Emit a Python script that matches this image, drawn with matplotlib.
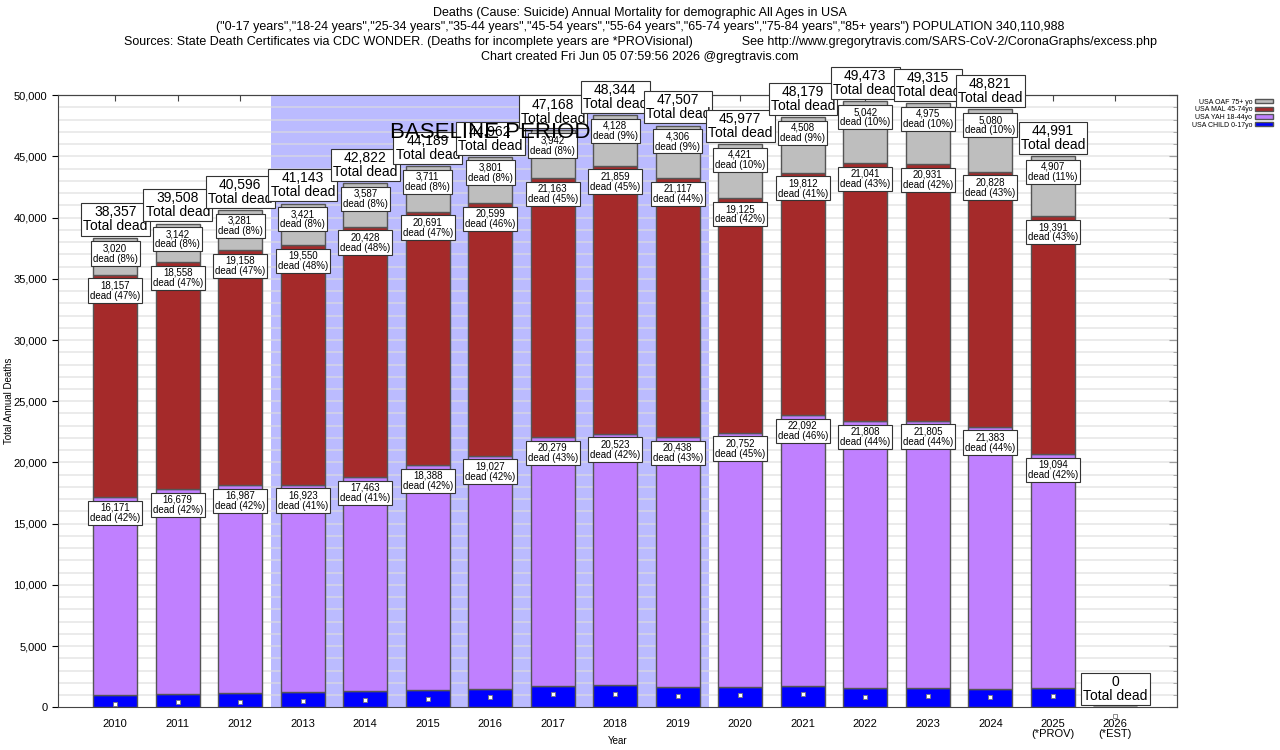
import matplotlib
matplotlib.use("Agg")
import matplotlib.pyplot as plt
from matplotlib.patches import Patch
from matplotlib.ticker import MultipleLocator
import numpy as np

plt.rcParams['font.family'] = ['Liberation Sans', 'DejaVu Sans']

years = [2010, 2011, 2012, 2013, 2014, 2015, 2016, 2017, 2018, 2019,
         2020, 2021, 2022, 2023, 2024, 2025, 2026]
year_labels = ['2010', '2011', '2012', '2013', '2014', '2015', '2016', '2017',
               '2018', '2019', '2020', '2021', '2022', '2023', '2024',
               '2025\n(*PROV)', '2026\n(*EST)']
child = [1009, 1129, 1170, 1249, 1344, 1399, 1535, 1784, 1834, 1646,
         1679, 1767, 1582, 1604, 1530, 1599, 0]
yah = [16171, 16679, 16987, 16923, 17463, 18388, 19027, 20279, 20523, 20438,
       20752, 22092, 21808, 21805, 21383, 19094, 0]
mal = [18157, 18558, 19158, 19550, 20428, 20691, 20599, 21163, 21859, 21117,
       19125, 19812, 21041, 20931, 20828, 19391, 0]
oaf = [3020, 3142, 3281, 3421, 3587, 3711, 3801, 3942, 4128, 4306,
       4421, 4508, 5042, 4975, 5080, 4907, 0]
totals = [38357, 39508, 40596, 41143, 42822, 44189, 44962, 47168, 48344, 47507,
          45977, 48179, 49473, 49315, 48821, 44991, 0]
markers = [300, 470, 470, 550, 650, 710, 820, 1090, 1120, 950,
           1010, 1120, 870, 930, 820, 930, -680]

series_names = ['USA CHILD 0-17yo', 'USA YAH 18-44yo', 'USA MAL 45-74yo', 'USA OAF 75+ yo']
colors = ['#0000ff', '#c080ff', '#a52a2a', '#bebebe']

fig = plt.figure(figsize=(12.8, 7.5), dpi=100)
ax = fig.add_axes([0.0451, 0.0567, 0.8746, 0.8166])

x = np.array(years, dtype=float)
ax.axvspan(2012.5, 2019.5, color='#bbbbff', zorder=0.5, lw=0)
ax.text(2016, 46900, 'BASELINE PERIOD', fontsize=16, ha='center', va='center', zorder=8)

for gy in range(1000, 50000, 1000):
    ax.axhline(gy, color='#dddddd', lw=1.2, zorder=0.8, alpha=0.7)

bw = 0.7
bottom = np.zeros(len(years))
segs = [child, yah, mal, oaf]
for i, (vals, col) in enumerate(zip(segs, colors)):
    v = np.array(vals, dtype=float)
    ax.bar(x, v, bw, bottom=bottom, color=col, edgecolor='#555555', linewidth=1, zorder=2)
    top = bottom + v
    if i > 0:
        for xi, t, val, tot in zip(x, top, v, totals):
            if tot > 0:
                pct = int(round(100 * val / tot))
                ax.annotate(f'{int(val):,}\ndead ({pct}%)', xy=(xi, t), xytext=(0, -4),
                            textcoords='offset points', ha='center', va='top',
                            fontsize=7, linespacing=1.05, zorder=4,
                            bbox=dict(boxstyle='square,pad=0.2', fc='white', ec='#333333', lw=0.8))
    bottom = top

for xi, tot in zip(x, totals):
    ax.annotate(f'{tot:,}\nTotal dead', xy=(xi, tot), xytext=(0, 3),
                textcoords='offset points', ha='center', va='bottom',
                fontsize=10, linespacing=1.0, zorder=6,
                bbox=dict(boxstyle='square,pad=0.15', fc='white', ec='#333333', lw=0.8))

ax.scatter(x, markers, marker='s', s=9, facecolor='white', edgecolor='#777777',
           linewidth=0.6, zorder=7, clip_on=False)

ax.set_xlim(2009.08, 2026.99)
ax.set_ylim(0, 50000)
ax.set_xticks(x)
ax.set_xticklabels(year_labels, fontsize=8, linespacing=1.0)
ax.set_yticks(np.arange(0, 50001, 5000))
ax.set_yticklabels([f'{v:,}' for v in range(0, 50001, 5000)], fontsize=8)
ax.tick_params(axis='x', length=0, pad=8)
ax.tick_params(axis='y', which='major', direction='out', length=4)
ax.set_xlabel('Year', fontsize=7, labelpad=-2)
ax.set_ylabel('Total Annual Deaths', fontsize=7)
ax.yaxis.set_label_coords(-0.039, 0.5)
for s in ax.spines.values():
    s.set_color('#444444')

# inward ticks on top and right
sec_x = ax.secondary_xaxis('top')
sec_x.set_xticks(x)
sec_x.tick_params(direction='in', length=4, labeltop=False, color='#444444')
sec_y = ax.secondary_yaxis('right')
sec_y.yaxis.set_major_locator(MultipleLocator(5000))
sec_y.yaxis.set_minor_locator(MultipleLocator(1000))
sec_y.tick_params(which='major', direction='in', length=6, labelright=False, color='#444444')
sec_y.tick_params(which='minor', direction='in', length=3, color='#444444')
for sp in list(sec_x.spines.values()) + list(sec_y.spines.values()):
    sp.set_color('#444444')

title = ('Deaths (Cause: Suicide) Annual Mortality for demographic All Ages in USA\n'
         '("0-17 years","18-24 years","25-34 years","35-44 years","45-54 years","55-64 years","65-74 years","75-84 years","85+ years") POPULATION 340,110,988\n'
         'Sources: State Death Certificates via CDC WONDER. (Deaths for incomplete years are *PROVisional)              See http://www.gregorytravis.com/SARS-CoV-2/CoronaGraphs/excess.php\n'
         'Chart created Fri Jun 05 07:59:56 2026 @gregtravis.com')
fig.text(0.5, 0.991, title, ha='center', va='top', fontsize=9, linespacing=1.3)

handles = [Patch(facecolor=c, edgecolor='#555555', label=n) for n, c in zip(series_names, colors)][::-1]
fig.legend(handles=handles, loc='upper right', bbox_to_anchor=(0.998, 0.875), fontsize=5,
           frameon=False, markerfirst=False, handlelength=2.5, handleheight=0.6,
           labelspacing=0.1, borderpad=0.2, handletextpad=0.4)

fig.savefig('out.png', dpi=100)
